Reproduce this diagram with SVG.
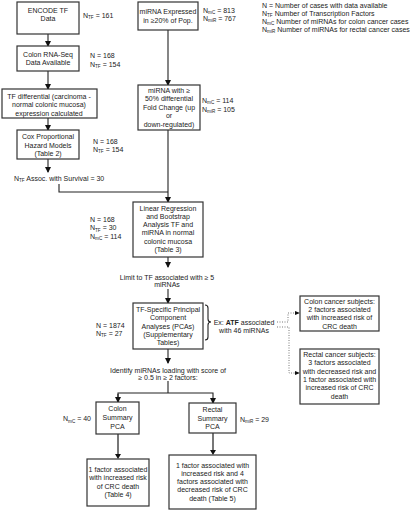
<svg xmlns="http://www.w3.org/2000/svg" width="417" height="511" viewBox="0 0 417 511">
<style>
text{font-family:"Liberation Sans",Arial,sans-serif;font-size:7px;fill:#222}
.c{text-anchor:middle}
.s{font-size:4.6px}
.box{fill:#fff;stroke:#333;stroke-width:1.2}
.ln{fill:none;stroke:#222;stroke-width:1.1}
.gl{fill:none;stroke:#777;stroke-width:2}
.dt{fill:none;stroke:#555;stroke-width:0.8;stroke-dasharray:1,1.5}
</style>
<defs>
<marker id="ah" markerWidth="6" markerHeight="6" refX="5" refY="3" orient="auto" markerUnits="userSpaceOnUse"><path d="M0,0 L6,3 L0,6 z" fill="#111"/></marker>
</defs>
<rect width="417" height="511" fill="#fff"/>
<g id="connectors">
<path class="ln" d="M48,34 V46" marker-end="url(#ah)"/>
<path class="ln" d="M48,71 V89" marker-end="url(#ah)"/>
<path class="ln" d="M48,118 V130" marker-end="url(#ah)"/>
<path class="ln" d="M48,159 V172" marker-end="url(#ah)"/>
<path class="ln" d="M59,184 V192 H168"/>
<path class="ln" d="M168,30 V85" marker-end="url(#ah)"/>
<path class="ln" d="M168,130 V202" marker-end="url(#ah)"/>
<path class="ln" d="M168,257 V267" marker-end="url(#ah)"/>
<path class="ln" d="M168,289 V303" marker-end="url(#ah)"/>
<path class="ln" d="M168,349 V363" marker-end="url(#ah)"/>
<path class="ln" d="M168,381 V393"/>
<path class="ln" d="M118,402 V393 H213 V403" marker-end="url(#ah)"/>
<path class="ln" d="M118,394 V402" marker-end="url(#ah)"/>
<path class="gl" d="M118,434 V455"/>
<path d="M115,454 L118,459 L121,454 z" fill="#111"/>
<path class="gl" d="M213,433 V451"/>
<path d="M210,450 L213,455 L216,450 z" fill="#111"/>
<path class="ln" d="M205,305 Q208,305 208,308 V319 Q208,322 211,322 Q208,322 208,325 V337 Q208,340 205,340"/>
<path class="dt" d="M277,322 H288 V313 H296"/>
<path d="M295,311 L300,313 L295,315 z" fill="#111"/>
<path class="dt" d="M277,327 H289 V373 H296"/>
<path d="M295,371 L300,373 L295,375 z" fill="#111"/>
</g>
<g id="legend">
<text x="262" y="7.5">N = Number of cases with data available</text>
<text x="262" y="15.5">N<tspan class="s" dy="1.5">TF</tspan><tspan dy="-1.5"> Number of Transcription Factors</tspan></text>
<text x="262" y="23.5">N<tspan class="s" dy="1.5">mC</tspan><tspan dy="-1.5"> Number of miRNAs for colon cancer cases</tspan></text>
<text x="262" y="31.5">N<tspan class="s" dy="1.5">miR</tspan><tspan dy="-1.5"> Number of miRNAs for rectal cancer cases</tspan></text>
</g>
<g id="encode">
<rect class="box" x="17" y="2" width="62" height="32"/>
<text class="c" x="48" y="12.5">ENCODE TF</text>
<text class="c" x="48" y="21">Data</text>
<text x="83" y="17.5">N<tspan class="s" dy="1.5">TF</tspan><tspan dy="-1.5"> = 161</tspan></text>
</g>
<g id="rnaseq">
<rect class="box" x="17" y="46" width="62" height="25"/>
<text class="c" x="48" y="56.5">Colon RNA-Seq</text>
<text class="c" x="48" y="65">Data Available</text>
<text x="90" y="57.5">N = 168</text>
<text x="90" y="66.5">N<tspan class="s" dy="1.5">TF</tspan><tspan dy="-1.5"> = 154</tspan></text>
</g>
<g id="tfdiff">
<rect class="box" x="2" y="89" width="95" height="29"/>
<text class="c" x="49" y="98.5">TF differential (carcinoma -</text>
<text class="c" x="49" y="107">normal colonic mucosa)</text>
<text class="c" x="49" y="115.5">expression calculated</text>
</g>
<g id="cox">
<rect class="box" x="17" y="130" width="62" height="29"/>
<text class="c" x="48" y="138.5">Cox Proportional</text>
<text class="c" x="48" y="147.5">Hazard Models</text>
<text class="c" x="48" y="155.5">(Table 2)</text>
<text x="93" y="143.5">N = 168</text>
<text x="93" y="151.5">N<tspan class="s" dy="1.5">TF</tspan><tspan dy="-1.5"> = 154</tspan></text>
</g>
<g id="survival">
<text x="14" y="180.5">N<tspan class="s" dy="1.5">TF</tspan><tspan dy="-1.5"> Assoc. with Survival = 30</tspan></text>
</g>
<g id="mirexpr">
<rect class="box" x="138" y="2" width="60" height="28"/>
<text class="c" x="168" y="13.5">miRNA Expressed</text>
<text class="c" x="168" y="22.5">in ≥20% of Pop.</text>
<text x="203" y="12.5">N<tspan class="s" dy="1.5">mC</tspan><tspan dy="-1.5"> =  813</tspan></text>
<text x="203" y="20.5">N<tspan class="s" dy="1.5">miR</tspan><tspan dy="-1.5"> =  767</tspan></text>
</g>
<g id="mirfold">
<rect class="box" x="138" y="85" width="62" height="45"/>
<text class="c" x="169" y="92.5">miRNA with ≥</text>
<text class="c" x="169" y="101">50% differential</text>
<text class="c" x="169" y="109.5">Fold Change (up</text>
<text class="c" x="169" y="118">or</text>
<text class="c" x="169" y="126.5">down-regulated)</text>
<text x="202" y="102.5">N<tspan class="s" dy="1.5">mC</tspan><tspan dy="-1.5"> = 114</tspan></text>
<text x="202" y="111.5">N<tspan class="s" dy="1.5">miR</tspan><tspan dy="-1.5"> = 105</tspan></text>
</g>
<g id="linreg">
<rect class="box" x="133" y="202" width="70" height="55"/>
<text class="c" x="168" y="210.5">Linear Regression</text>
<text class="c" x="168" y="218.8">and Bootstrap</text>
<text class="c" x="168" y="227.1">Analysis TF and</text>
<text class="c" x="168" y="235.4">miRNA in normal</text>
<text class="c" x="168" y="243.7">colonic mucosa</text>
<text class="c" x="168" y="252">(Table 3)</text>
<text x="90" y="221.5">N = 168</text>
<text x="90" y="230">N<tspan class="s" dy="1.5">TF</tspan><tspan dy="-1.5"> = 30</tspan></text>
<text x="90" y="238.5">N<tspan class="s" dy="1.5">mC</tspan><tspan dy="-1.5"> = 114</tspan></text>
</g>
<g id="limit">
<text class="c" x="167" y="279.5">Limit to TF associated with ≥ 5</text>
<text class="c" x="167" y="286.5">miRNAs</text>
</g>
<g id="pca">
<rect class="box" x="133" y="303" width="70" height="46"/>
<text class="c" x="168" y="311.5">TF-Specific Principal</text>
<text class="c" x="168" y="320">Component</text>
<text class="c" x="168" y="328.5">Analyses (PCAs)</text>
<text class="c" x="168" y="336.5">(Supplementary</text>
<text class="c" x="168" y="344.5">Tables)</text>
<text x="96" y="327.5">N = 1874</text>
<text x="96" y="335.5">N<tspan class="s" dy="1.5">TF</tspan><tspan dy="-1.5"> = 27</tspan></text>
</g>
<g id="example">
<text class="c" x="244" y="324.5">Ex: <tspan font-weight="bold">ATF</tspan> associated</text>
<text class="c" x="244" y="332.5">with 46 miRNAs</text>
</g>
<g id="coloncancer">
<rect class="box" x="300" y="296" width="79" height="35"/>
<text class="c" x="339.5" y="303.5">Colon cancer subjects:</text>
<text class="c" x="339.5" y="311.5">2 factors associated</text>
<text class="c" x="339.5" y="320">with increased risk of</text>
<text class="c" x="339.5" y="328.5">CRC death</text>
</g>
<g id="rectalcancer">
<rect class="box" x="300" y="349" width="79" height="55"/>
<text class="c" x="339.5" y="356.5">Rectal cancer subjects:</text>
<text class="c" x="339.5" y="365">3 factors associated</text>
<text class="c" x="339.5" y="373.5">with decreased risk and</text>
<text class="c" x="339.5" y="381.5">1 factor associated with</text>
<text class="c" x="339.5" y="390">increased risk of CRC</text>
<text class="c" x="339.5" y="398.5">death</text>
</g>
<g id="identify">
<text class="c" x="168" y="372.5">Identify miRNAs loading with score of</text>
<text class="c" x="168" y="379.5">≥ 0.5 in ≥ 2 factors:</text>
</g>
<g id="colonsummary">
<rect class="box" x="96" y="402" width="43" height="32"/>
<text class="c" x="117.5" y="411">Colon</text>
<text class="c" x="117.5" y="420">Summary</text>
<text class="c" x="117.5" y="428.5">PCA</text>
<text x="63" y="421">N<tspan class="s" dy="1.5">mC</tspan><tspan dy="-1.5"> =  40</tspan></text>
</g>
<g id="colonresult">
<rect class="box" x="87" y="459" width="62" height="47"/>
<text class="c" x="118" y="471.5">1 factor associated</text>
<text class="c" x="118" y="480">with increased risk</text>
<text class="c" x="118" y="488.5">of CRC death</text>
<text class="c" x="118" y="496.5">(Table 4)</text>
</g>
<g id="rectalsummary">
<rect class="box" x="189" y="403" width="47" height="30"/>
<text class="c" x="212.5" y="411.5">Rectal</text>
<text class="c" x="212.5" y="420.5">Summary</text>
<text class="c" x="212.5" y="428.5">PCA</text>
<text x="240" y="421.5">N<tspan class="s" dy="1.5">miR</tspan><tspan dy="-1.5"> =  29</tspan></text>
</g>
<g id="rectalresult">
<rect class="box" x="169" y="455" width="87" height="54"/>
<text class="c" x="212.5" y="467.5">1 factor associated with</text>
<text class="c" x="212.5" y="475.5">increased risk and 4</text>
<text class="c" x="212.5" y="483.5">factors associated with</text>
<text class="c" x="212.5" y="492">decreased risk of CRC</text>
<text class="c" x="212.5" y="500.5">death (Table 5)</text>
</g>
</svg>
